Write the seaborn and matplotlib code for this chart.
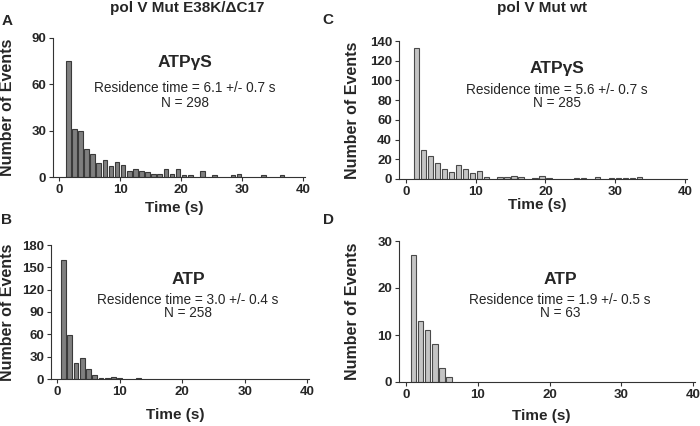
import pandas as pd
import matplotlib.pyplot as plt
import seaborn as sns

# dwell-time histograms, values
a_time = [1.5, 2.5, 3.5, 4.5, 5.5, 6.5, 7.5, 8.5, 9.5, 10.5, 11.5, 12.5, 13.5, 14.5,
          15.5, 16.5, 17.5, 18.5, 19.5, 20.5, 21.5, 23.5, 25.5, 28.5, 29.5, 33.5, 36.5]
a_count = [75, 31, 30, 18, 15, 9, 11, 7, 10, 8, 4, 5, 4, 3,
           2, 2, 5, 2, 5, 1, 1, 4, 1, 1, 2, 1, 1]

b_time = [1, 2, 3, 4, 5, 6, 7, 8, 9, 10, 13]
b_count = [160, 59, 22, 28, 14, 6, 1, 1, 3, 2, 1]

c_time = [1.5, 2.5, 3.5, 4.5, 5.5, 6.5, 7.5, 8.5, 9.5, 10.5, 11.5, 13.5, 14.5,
          15.5, 16.5, 18.5, 19.5, 20.5, 24.5, 25.5, 27.5, 29.5, 30.5, 31.5, 32.5, 33.5]
c_count = [133, 29, 23, 16, 10, 7, 14, 10, 6, 8, 2, 2, 2,
           3, 2, 1, 3, 1, 1, 1, 2, 1, 1, 1, 1, 2]

d_time = [1, 2, 3, 4, 5, 6]
d_count = [27, 13, 11, 8, 3, 1]

col_titles = ['pol V Mut E38K/\u0394C17', 'pol V Mut wt']
nucleotide = ['ATP\u03b3S', 'ATP', 'ATP\u03b3S', 'ATP']
res_time = ['Residence time = 6.1 +/- 0.7 s', 'Residence time = 3.0 +/- 0.4 s',
            'Residence time = 5.6 +/- 0.7 s', 'Residence time = 1.9 +/- 0.5 s']
n_events = ['N = 298', 'N = 258', 'N = 285', 'N = 63']
y_ticks = [[0, 30, 60, 90], [0, 30, 60, 90, 120, 150, 180],
           [0, 20, 40, 60, 80, 100, 120, 140], [0, 10, 20, 30]]

sns.set_style('white')
plt.rcParams['font.family'] = ['Liberation Sans', 'DejaVu Sans']

W, H = 700, 426
fig = plt.figure(figsize=(7, 4.26), dpi=100)

# axes boxes in pixels: left, bottom(from top), width, height
boxes = [(53, 177, 252, 139), (51, 379, 258, 134), (399, 179, 288, 138), (399, 382, 296, 141)]
data = [(a_time, a_count), (b_time, b_count), (c_time, c_count), (d_time, d_count)]
colors = ['#7f7f7f', '#7f7f7f', '#c4c4c4', '#c4c4c4']
edges = ['#3a3a3a', '#3a3a3a', '#4a4a4a', '#4a4a4a']
xlab_y = [-0.17, -0.215, -0.14, -0.19]
# text anchor positions in pixels (x, y of ATP label, residence, N)
txt = [(185, 63, 88, 103), (188, 280, 300, 313), (557, 68, 90, 103), (560, 280, 300, 313)]

for i, ((l, b, w, h), (t, c)) in enumerate(zip(boxes, data)):
    ax = fig.add_axes([l / W, (H - b) / H, w / W, h / H])
    df = pd.DataFrame({'time': t, 'count': c})
    sns.barplot(data=df, x='time', y='count', native_scale=True, width=0.75,
                color=colors[i], edgecolor=edges[i], linewidth=0.8, saturation=1, ax=ax)
    ax.set_xlim(-1, 40.3)
    ax.set_ylim(0, y_ticks[i][-1])
    ax.set_xticks([0, 10, 20, 30, 40])
    ax.set_yticks(y_ticks[i])
    sns.despine(ax=ax)
    for s in ['left', 'bottom']:
        ax.spines[s].set_color('#333333')
        ax.spines[s].set_linewidth(0.8)
    ax.tick_params(axis='both', length=3, width=0.8, direction='out', color='#333333',
                   labelsize=9.5, pad=2, bottom=True, left=True)
    for lab in ax.get_xticklabels() + ax.get_yticklabels():
        lab.set_fontweight('bold')
    ax.set_xlabel('Time (s)', fontsize=11, fontweight='bold')
    ax.set_ylabel('Number of Events', fontsize=11.5, fontweight='bold')
    ax.xaxis.set_label_coords(0.48, xlab_y[i])
    ax.yaxis.set_label_coords((15 - l) / w if i < 2 else (360 - l) / w, 0.5)

    x0, y1, y2, y3 = txt[i]
    fig.text(x0 / W, 1 - y1 / H, nucleotide[i], ha='center', va='center',
             fontsize=12.5, fontweight='bold')
    fig.text(x0 / W, 1 - y2 / H, res_time[i], ha='center', va='center', fontsize=9.8)
    fig.text(x0 / W, 1 - y3 / H, n_events[i], ha='center', va='center', fontsize=9.8)

fig.text(187 / W, 1 - 8 / H, col_titles[0], ha='center', va='center', fontsize=11, fontweight='bold')
fig.text(542 / W, 1 - 8 / H, col_titles[1], ha='center', va='center', fontsize=11, fontweight='bold')
for letter, (px, py) in zip('ABCD', [(7, 21), (7, 220), (328, 20), (328, 220)]):
    fig.text(px / W, 1 - py / H, letter, ha='center', va='center', fontsize=11, fontweight='bold')

fig.savefig('out.png', dpi=100)
